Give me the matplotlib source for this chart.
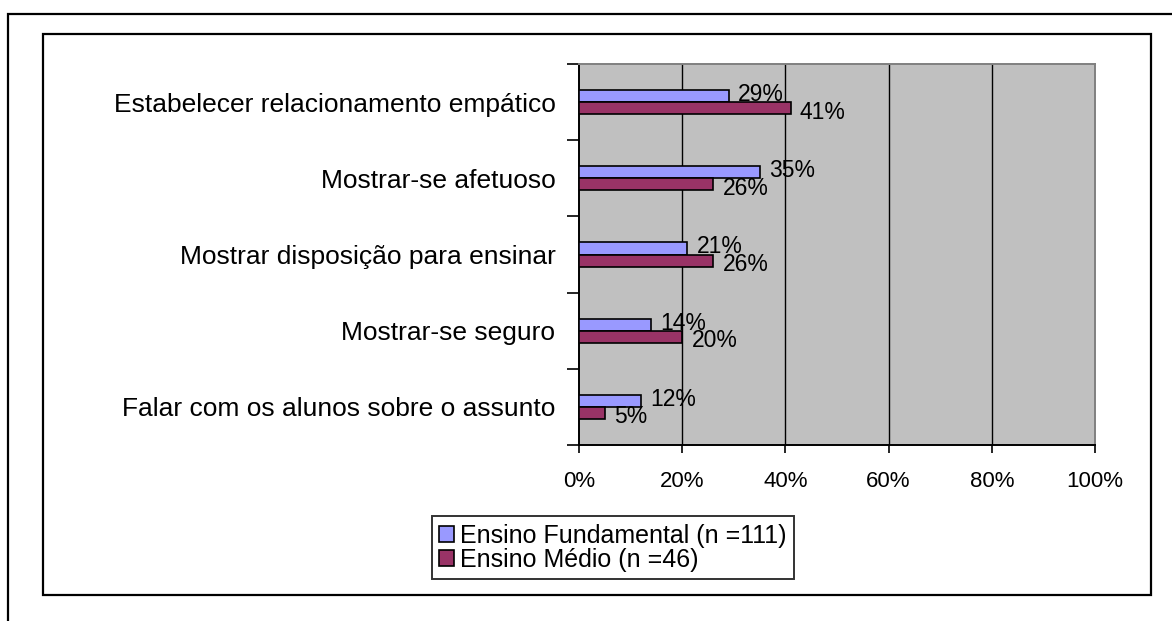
import numpy as np
import matplotlib
matplotlib.use('Agg')
import matplotlib.pyplot as plt
from matplotlib.patches import Rectangle

plt.rcParams['font.family'] = ['Liberation Sans', 'DejaVu Sans']

# dados (de cima para baixo)
categorias = ['Estabelecer relacionamento empático',
              'Mostrar-se afetuoso',
              'Mostrar disposição para ensinar',
              'Mostrar-se seguro',
              'Falar com os alunos sobre o assunto']
fundamental = [29, 35, 21, 14, 12]
medio = [41, 26, 26, 20, 5]
series_nomes = ['Ensino Fundamental (n =111)', 'Ensino Médio (n =46)']
xticks = [0, 20, 40, 60, 80, 100]

W, H = 1172, 621
fig = plt.figure(figsize=(W / 100, H / 100), dpi=100)

# molduras (externa e interna)
fig.patches.append(Rectangle((8 / W, -0.2), 1.2, 1 - 14 / H + 0.2, transform=fig.transFigure,
                             fill=False, ec='black', lw=1.6))
fig.patches.append(Rectangle((43 / W, 1 - 595 / H), (1151 - 43) / W, (595 - 34) / H,
                             transform=fig.transFigure, fill=False, ec='black', lw=1.6))

ax = fig.add_axes([579 / W, 1 - 445 / H, 516 / W, 381 / H])
ax.set_facecolor('#C0C0C0')

n = len(categorias)
y = np.arange(n)[::-1] + 0.5
h = 0.16
ax.barh(y + h / 2, fundamental, height=h, color='#9999FF', edgecolor='black', lw=1.2,
        label=series_nomes[0], zorder=3)
ax.barh(y - h / 2, medio, height=h, color='#993366', edgecolor='black', lw=1.2,
        label=series_nomes[1], zorder=3)

# rótulos de valor
for yi, v in zip(y, fundamental):
    ax.text(v + 1.8, yi + h / 2 + 0.02, f'{v}%', va='center', ha='left', fontsize=16.5, zorder=4)
for yi, v in zip(y, medio):
    ax.text(v + 1.8, yi - h / 2 - 0.05, f'{v}%', va='center', ha='left', fontsize=16.5, zorder=4)

ax.set_xlim(0, 100)
ax.set_ylim(0, n)
ax.set_xticks(xticks)
ax.set_xticklabels([f'{t}%' for t in xticks], fontsize=16)
ax.set_yticks(np.arange(n + 1))
ax.set_yticklabels([])
ax.set_yticks(y, minor=True)
ax.set_yticklabels(categorias, minor=True, fontsize=19)
ax.tick_params(axis='y', which='minor', length=0, pad=17)
ax.tick_params(axis='y', which='major', length=9, width=1.2, direction='out')
ax.tick_params(axis='x', length=6, width=1.2, direction='out', pad=13)

for g in xticks[1:-1]:
    ax.axvline(g, color='black', lw=1, zorder=1)

for s in ['left', 'bottom']:
    ax.spines[s].set_color('black')
    ax.spines[s].set_linewidth(1.4)
for s in ['top', 'right']:
    ax.spines[s].set_color('#808080')
    ax.spines[s].set_linewidth(1.4)

leg = ax.legend(loc='center', bbox_to_anchor=((613 - 579) / 516, -(547.5 - 445) / 381),
                bbox_transform=ax.transAxes, fontsize=18, frameon=True, fancybox=False,
                edgecolor='black', handlelength=0.6, handleheight=0.6, handletextpad=0.25,
                borderpad=0.3, labelspacing=0.0, borderaxespad=0)
leg.get_frame().set_linewidth(1.4)

fig.savefig('out.png', dpi=100)
